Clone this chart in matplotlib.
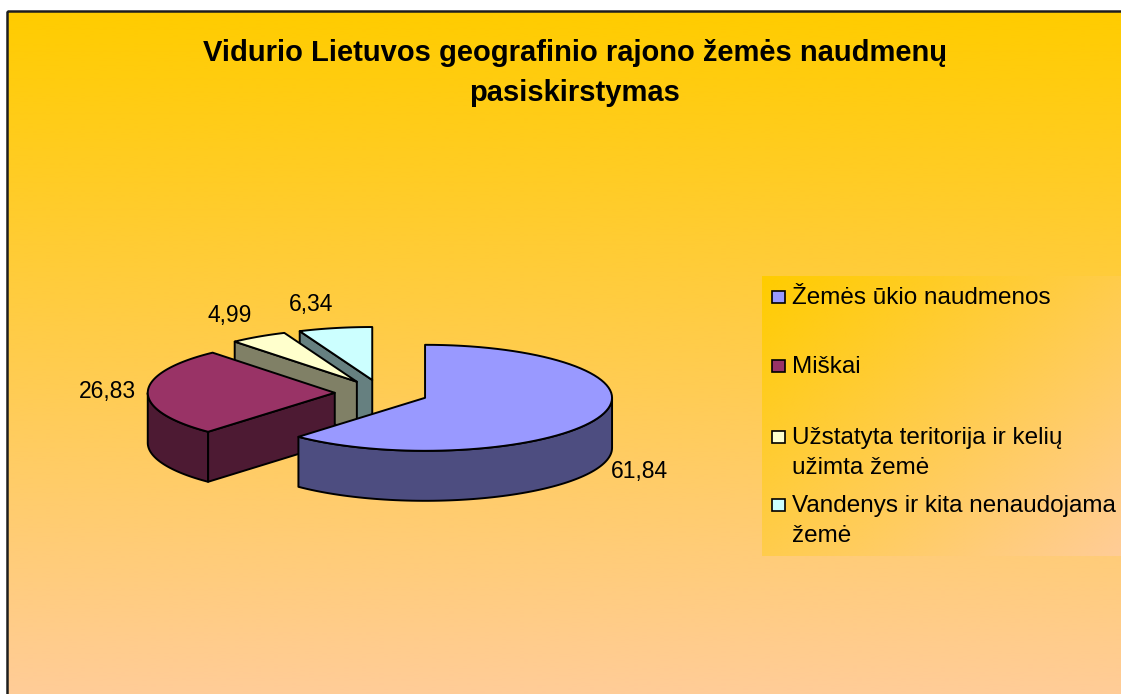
import matplotlib
matplotlib.use("Agg")
import matplotlib.pyplot as plt
from matplotlib.patches import Polygon, Rectangle
from matplotlib.colors import to_rgb
import numpy as np

W, H = 1121, 694

TITLE = "Vidurio Lietuvos geografinio rajono žemės naudmenų\npasiskirstymas"
categories = [
    "Žemės ūkio naudmenos",
    "Miškai",
    "Užstatyta teritorija ir kelių\nužimta žemė",
    "Vandenys ir kita nenaudojama\nžemė",
]
values = [61.84, 26.83, 4.99, 6.34]
top_colors = ["#9999FF", "#993366", "#FFFFCC", "#CCFFFF"]

FONT = "Liberation Sans"
GOLD = np.array([255, 204, 0]) / 255
PEACH = np.array([255, 204, 153]) / 255

# pie geometry (pixels)
CX, CY = 381.5, 393.0
RX, RY = 187.0, 53.0
DEPTH = 50.0
EXPLODE = 0.25
LABEL_PAD = 12


def darker(c, k=0.5):
    return tuple(np.array(to_rgb(c)) * k)


def rim(x0, y0, ang, r=1.0):
    a = np.radians(ang)
    return x0 + r * RX * np.sin(a), y0 - r * RY * np.cos(a)


def arc(x0, y0, a0, a1, n=80):
    t = np.linspace(a0, a1, n)
    xs, ys = rim(x0, y0, t)
    return np.column_stack([xs, ys])


fig = plt.figure(figsize=(W / 100, H / 100), dpi=100)
fig.patch.set_facecolor("white")
ax = fig.add_axes([0, 0, 1, 1])
ax.set_xlim(0, W)
ax.set_ylim(H, 0)
ax.axis("off")

# chart area background: vertical gradient gold -> peach
t = np.linspace(0, 1, 400)[:, None, None]
grad = GOLD * (1 - t) + PEACH * t
ax.imshow(grad, extent=(7, W + 10, 700, 11), aspect="auto", zorder=0, interpolation="bilinear")
ax.add_patch(Rectangle((7, 11), W + 20, 720, fill=False, ec="#1e1e1e", lw=1.8, zorder=1))

# legend box with diagonal gradient
lx0, ly0, lx1, ly1 = 762, 276, 1130, 556
u = np.linspace(0, 1, 200)[None, :]
v = np.linspace(0, 1, 120)[:, None]
tt = ((u + v) / 2)[:, :, None]
lgrad = GOLD * (1 - tt) + PEACH * tt
ax.imshow(lgrad, extent=(lx0, lx1, ly1, ly0), aspect="auto", zorder=1, interpolation="bilinear")

ax.set_xlim(0, W)
ax.set_ylim(H, 0)

# title
ax.text(575, 39, TITLE, ha="center", va="top", fontsize=21, fontweight="bold",
        family=FONT, color="black", linespacing=1.55, zorder=10)

# 3D pie slices
fracs = np.array(values) / sum(values)
bounds = np.concatenate([[0], np.cumsum(fracs)]) * 360.0
slices = []
for i in range(len(values)):
    a0, a1 = bounds[i], bounds[i + 1]
    mid = (a0 + a1) / 2
    sx, sy = rim(CX, CY, mid, EXPLODE)
    slices.append((sy, i, a0, a1, mid, sx))

z = 2
edge = dict(ec="black", lw=1.4, joinstyle="round")
for sy, i, a0, a1, mid, sx in sorted(slices):
    side = darker(top_colors[i])
    # outer wall (front half only)
    w0, w1 = max(a0, 90), min(a1, 270)
    if w1 > w0:
        top_arc = arc(sx, sy, w0, w1)
        bottom_arc = top_arc[::-1] + [0, DEPTH]
        ax.add_patch(Polygon(np.vstack([top_arc, bottom_arc]), closed=True, fc=side, zorder=z, **edge))
        z += 1
    # radial walls facing the viewer
    for ang, visible in ((a0, np.sin(np.radians(a0)) < -1e-6), (a1, np.sin(np.radians(a1)) > 1e-6)):
        if visible:
            px, py = rim(sx, sy, ang)
            quad = [(sx, sy), (px, py), (px, py + DEPTH), (sx, sy + DEPTH)]
            ax.add_patch(Polygon(quad, closed=True, fc=side, zorder=z, **edge))
            z += 1
    # top face
    pts = np.vstack([[sx, sy], arc(sx, sy, a0, a1), [sx, sy]])
    ax.add_patch(Polygon(pts, closed=True, fc=top_colors[i], zorder=z, **edge))
    z += 1

    # value label
    s, c = np.sin(np.radians(mid)), np.cos(np.radians(mid))
    lx, ly = rim(sx, sy, mid)
    if c < 0:
        ly += DEPTH
    lx += LABEL_PAD * s
    ly -= LABEL_PAD * c
    ha = "left" if s > 0 else "right"
    va = "center" if abs(c) < 0.5 else ("bottom" if c > 0 else "top")
    ax.text(lx, ly, f"{values[i]:.2f}".replace(".", ","), ha=ha, va=va, fontsize=16.5,
            family=FONT, color="black", zorder=20)

# legend entries
baselines = [304, 373, 444, 512]
line_step = 29.5
for i, label in enumerate(categories):
    yb = baselines[i]
    ax.add_patch(Rectangle((772, yb - 13), 13, 12, fc=top_colors[i], ec="black", lw=1.2, zorder=5))
    for k, line in enumerate(label.split("\n")):
        ax.text(792, yb + k * line_step, line, ha="left", va="baseline", fontsize=17.5,
                family=FONT, color="black", zorder=5)

fig.savefig("out.png", dpi=100, facecolor=fig.get_facecolor())
